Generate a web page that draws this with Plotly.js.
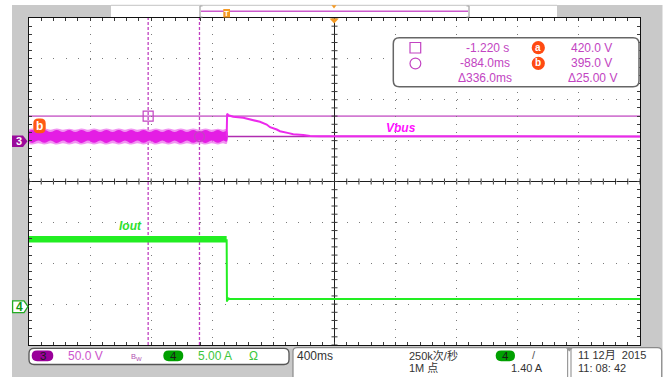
<!DOCTYPE html>
<html>
<head>
<meta charset="utf-8">
<script src="https://cdn.plot.ly/plotly-3.0.1.min.js"></script>
<style>
html,body{margin:0;padding:0;background:#fff;overflow:hidden}
#scope{width:667px;height:377px}
</style>
</head>
<body>
<div id="scope"></div>
<script>
// Horizontal: 400 ms/div, 10 divisions, trigger point at screen centre (s)
const timeRange = [-2.0, 2.0];
// CH3 Vbus: 50 V/div, screen centre at 340 V
const vbusRange = [140, 540];
// CH4 Iout: 5 A/div, ground marker just under the lowest grid line
const ioutRange = [-4.77, 35.23];

// Vbus ripple envelope before the load step (s, V)
const rippleT = [-2.000, -1.980, -1.940, -1.899, -1.859, -1.818, -1.778, -1.737, -1.697,
  -1.656, -1.615, -1.574, -1.534, -1.493, -1.453, -1.412, -1.372, -1.331, -1.291, -1.250,
  -1.210, -1.169, -1.128, -1.087, -1.047, -1.006, -0.966, -0.925, -0.885, -0.844, -0.804,
  -0.763, -0.730, -0.706];
const rippleOuterHi = [404.0, 404.8, 403.4, 404.7, 403.3, 404.8, 403.4, 404.6, 403.2,
  404.8, 403.4, 404.7, 403.3, 404.8, 403.4, 404.7, 403.3, 404.8, 403.4, 404.6, 403.3,
  404.8, 403.4, 404.7, 403.3, 404.8, 403.4, 404.7, 403.3, 404.8, 403.4, 404.6, 403.4, 404.0];
const rippleOuterLo = [386.0, 385.2, 386.8, 385.3, 386.9, 385.2, 386.8, 385.3, 386.9,
  385.2, 386.8, 385.3, 386.9, 385.2, 386.8, 385.3, 386.9, 385.2, 386.8, 385.3, 386.9,
  385.2, 386.8, 385.3, 386.9, 385.2, 386.8, 385.3, 386.9, 385.2, 386.8, 385.3, 386.8, 386.0];
const rippleCoreHi = [401.5, 403.0, 400.5, 402.9, 400.4, 403.0, 400.5, 402.9, 400.4,
  403.0, 400.5, 402.9, 400.4, 403.0, 400.5, 402.9, 400.4, 403.0, 400.5, 402.9, 400.4,
  403.0, 400.5, 402.9, 400.4, 403.0, 400.5, 402.9, 400.4, 403.0, 400.5, 402.9, 400.6, 401.5];
const rippleCoreLo = [388.8, 387.2, 390.2, 387.3, 390.3, 387.2, 390.2, 387.3, 390.3,
  387.2, 390.2, 387.3, 390.3, 387.2, 390.2, 387.3, 390.3, 387.2, 390.2, 387.3, 390.3,
  387.2, 390.2, 387.3, 390.3, 387.2, 390.2, 387.3, 390.3, 387.2, 390.2, 387.3, 390.0, 388.8];

// Vbus overshoot and recovery after the load step (s, V)
const vbusStepT = [-0.706, -0.703, -0.695, -0.663, -0.597, -0.534, -0.488, -0.444, -0.422,
  -0.378, -0.357, -0.300, -0.270, -0.204, -0.160, -0.095, 0.300, 1.000, 2.000];
const vbusStepV = [395.0, 423.0, 421.0, 419.2, 417.9, 415.0, 413.0, 409.7, 406.4,
  403.6, 401.5, 399.2, 397.8, 397.0, 395.8, 395.4, 395.2, 395.1, 395.1];

// Iout before the step (s, A)
const ioutHighT = [-2.000, -0.706];
const ioutHighA = [8.18, 8.18];
// Iout falling edge and light-load level (s, A)
const ioutLowT = [-0.706, -0.704, -0.701, -0.698, -0.694, -0.690, -0.680, 2.000];
const ioutLowA = [8.18, 0.52, 1.05, 0.70, 0.98, 0.86, 0.86, 0.86];

// Cursor pair: times (s) and levels (V)
const cursorT = [-1.220, -0.884];
const cursorV = [420.0, 395.0];

// ---- screen geometry (pixels) ----
const L = 29, T = 18, PW = 611, PH = 327;
const px = x => (x - L) / PW;
const py = y => (T + PH - y) / PH;

const FONT = 'Liberation Sans, Arial, Noto Sans CJK SC, sans-serif';
const MAG = '#c244c2';
const GRN = '#3cc63c';
const TICK = '#3a3a3a';

function rr(x0, y0, x1, y1, r) {
  return `M${px(x0 + r)},${py(y0)} L${px(x1 - r)},${py(y0)} Q${px(x1)},${py(y0)} ${px(x1)},${py(y0 + r)} ` +
    `L${px(x1)},${py(y1 - r)} Q${px(x1)},${py(y1)} ${px(x1 - r)},${py(y1)} L${px(x0 + r)},${py(y1)} ` +
    `Q${px(x0)},${py(y1)} ${px(x0)},${py(y1 - r)} L${px(x0)},${py(y0 + r)} Q${px(x0)},${py(y0)} ${px(x0 + r)},${py(y0)} Z`;
}
function poly(pts) {
  return 'M' + pts.map(p => px(p[0]) + ',' + py(p[1])).join(' L') + ' Z';
}
function pathShape(d, fill, line, lw, layer) {
  return {type: 'path', xref: 'paper', yref: 'paper', path: d, fillcolor: fill,
    line: {color: line || fill, width: lw === undefined ? 0 : lw}, layer: layer || 'above'};
}
function rect(x0, y0, x1, y1, fill, layer) {
  return {type: 'rect', xref: 'paper', yref: 'paper', x0: px(x0), x1: px(x1), y0: py(y1), y1: py(y0),
    fillcolor: fill, line: {width: 0}, layer: layer || 'above'};
}
function seg(x0, y0, x1, y1, color, w) {
  return {type: 'line', xref: 'paper', yref: 'paper', x0: px(x0), x1: px(x1), y0: py(y0), y1: py(y1),
    line: {color: color, width: w}, layer: 'above'};
}
function circ(cx, cy, r, fill, line, lw) {
  return {type: 'circle', xref: 'paper', yref: 'paper', x0: px(cx - r), x1: px(cx + r), y0: py(cy + r), y1: py(cy - r),
    fillcolor: fill, line: {color: line || fill, width: lw || 0}, layer: 'above'};
}
function label(x, y, text, size, color, anchor, extra) {
  return Object.assign({xref: 'paper', yref: 'paper', x: px(x), y: py(y), text: text, showarrow: false,
    xanchor: anchor || 'left', yanchor: 'middle', borderpad: 0,
    font: {family: FONT, size: size, color: color}}, extra || {});
}

// ---- cursor readout strings ----
function fmtT(t) {
  return Math.abs(t) >= 1 ? t.toFixed(3) + ' s' : (t * 1000).toFixed(1) + 'ms';
}
const dT = Math.abs(cursorT[1] - cursorT[0]);
const dV = Math.abs(cursorV[0] - cursorV[1]);
const vMid = (vbusRange[0] + vbusRange[1]) / 2;

// ---- traces ----
const rev = a => a.slice().reverse();
const data = [
  {x: rippleT.concat(rev(rippleT)), y: rippleOuterHi.concat(rev(rippleOuterLo)),
   xaxis: 'x', yaxis: 'y', mode: 'lines', fill: 'toself', fillcolor: 'rgba(238,120,238,0.8)',
   line: {width: 0, shape: 'spline', smoothing: 1}, hoverinfo: 'skip'},
  {x: rippleT.concat(rev(rippleT)), y: rippleCoreHi.concat(rev(rippleCoreLo)),
   xaxis: 'x', yaxis: 'y', mode: 'lines', fill: 'toself', fillcolor: '#e41ee4',
   line: {width: 0, shape: 'spline', smoothing: 1.2}, hoverinfo: 'skip'},
  {x: vbusStepT, y: vbusStepV, xaxis: 'x', yaxis: 'y', mode: 'lines',
   line: {color: '#ec2aec', width: 2}},
  {x: ioutHighT, y: ioutHighA, xaxis: 'x', yaxis: 'y2', mode: 'lines',
   line: {color: '#22ee22', width: 6.5}},
  {x: ioutLowT, y: ioutLowA, xaxis: 'x', yaxis: 'y2', mode: 'lines',
   line: {color: '#22ee22', width: 2}},
  {x: cursorT, y: cursorV, xaxis: 'x', yaxis: 'y', mode: 'markers',
   marker: {symbol: ['square-open', 'circle-open'], size: 10, color: MAG, line: {width: 1.2, color: MAG}}}
];

// ---- decorations ----
const shapes = [
  rect(12, 5, 662.5, 377, '#c9c9c9', 'below'),
  rect(111, 0, 557, 17.5, '#ffffff', 'below'),
  rect(29, 18, 640, 345, '#ffffff', 'below'),
  // centre horizontal line of the graticule
  {type: 'line', xref: 'x', yref: 'y', x0: timeRange[0], x1: timeRange[1], y0: vMid, y1: vMid,
   line: {color: '#1e1e1e', width: 1.2}, layer: 'below'},
  // cursors
  {type: 'line', xref: 'x', yref: 'paper', x0: cursorT[0], x1: cursorT[0], y0: 0, y1: 1,
   line: {color: '#c040c0', width: 1.3, dash: '3px,2px'}, layer: 'below'},
  {type: 'line', xref: 'x', yref: 'paper', x0: cursorT[1], x1: cursorT[1], y0: 0, y1: 1,
   line: {color: '#c040c0', width: 1.3, dash: '3px,2px'}, layer: 'below'},
  {type: 'line', xref: 'x', yref: 'y', x0: timeRange[0], x1: timeRange[1], y0: cursorV[0], y1: cursorV[0],
   line: {color: '#d27ad2', width: 1.6}, layer: 'below'},
  {type: 'line', xref: 'x', yref: 'y', x0: timeRange[0], x1: timeRange[1], y0: cursorV[1], y1: cursorV[1],
   line: {color: '#b02cb0', width: 1.4}, layer: 'below'}
];
// minor tick marks on both sides of the centre cross
for (let k = 0; k <= 50; k++) {
  const t = timeRange[0] + k * 0.08;
  shapes.push({type: 'line', xref: 'x', yref: 'paper', x0: t, x1: t, y0: 0.5 - 3 / PH, y1: 0.5 + 3 / PH,
    line: {color: TICK, width: 1}, layer: 'below'});
}
for (let k = 0; k <= 40; k++) {
  const v = vbusRange[0] + k * 10;
  shapes.push({type: 'line', xref: 'paper', yref: 'y', x0: 0.5 - 3 / PW, x1: 0.5 + 3 / PW, y0: v, y1: v,
    line: {color: TICK, width: 1}, layer: 'above'});
}
shapes.push(
  // top record bar
  seg(111, 5.3, 557, 5.3, '#c4c4c4', 1),
  seg(200, 6, 200, 17, '#a8a8a8', 1.3), seg(200, 6, 202.5, 6, '#a8a8a8', 1), seg(200, 17, 202.5, 17, '#a8a8a8', 1),
  seg(469, 6, 469, 17, '#a8a8a8', 1.3), seg(466.5, 6, 469, 6, '#a8a8a8', 1), seg(466.5, 17, 469, 17, '#a8a8a8', 1),
  seg(201, 11.3, 468, 11.3, '#cc5acc', 1.6),
  rect(223.3, 9, 230, 17.5, '#f59a23'),
  pathShape(poly([[331.5, 5.3], [336.5, 5.3], [334, 8.5]]), '#f59a23'),
  pathShape(poly([[329.5, 18.5], [338.8, 18.5], [334.2, 23.6]]), '#f59a23'),
  // channel markers
  pathShape(poly([[12, 135.6], [23, 135.6], [27.5, 141.3], [23, 147], [12, 147]]), '#9b0b9b'),
  pathShape(poly([[12.6, 300.8], [24, 300.8], [28, 306.6], [24, 312.6], [12.6, 312.6]]), '#ffffff', '#22aa22', 1.3),
  pathShape(rr(33.3, 118.6, 45.7, 133.3, 5), '#ff5a14'),
  // cursor readout
  pathShape(rr(393.3, 37.7, 639, 86.7, 6), '#ffffff', '#666666', 1.5),
  {type: 'rect', xref: 'paper', yref: 'paper', x0: px(410), x1: px(420.7), y0: py(53), y1: py(42.5),
   fillcolor: 'rgba(0,0,0,0)', line: {color: MAG, width: 1.2}, layer: 'above'},
  circ(415.4, 63.5, 5.4, 'rgba(0,0,0,0)', MAG, 1.2),
  circ(538.3, 47.7, 6.6, '#ff4a12'),
  circ(538.3, 63.3, 6.6, '#ff4a12'),
  // bottom status boxes
  pathShape(rr(29, 348.3, 289, 364.5, 5), '#ffffff', '#555555', 1.3),
  pathShape(rr(31.7, 350.4, 53.3, 361.2, 5.4), '#990099'),
  pathShape(rr(163.3, 350.4, 183.3, 361.2, 5.4), '#00a000'),
  pathShape(`M${px(293)},${py(377)} L${px(293)},${py(351.5)} Q${px(293)},${py(347.6)} ${px(297)},${py(347.6)} ` +
    `L${px(657.5)},${py(347.6)} Q${px(661.7)},${py(347.6)} ${px(661.7)},${py(351.5)} L${px(661.7)},${py(377)}`,
    '#ffffff', '#8a8a8a', 1.2),
  pathShape(rr(495.7, 350.4, 515, 361.2, 5.4), '#00a000'),
  seg(567.6, 349, 567.6, 377, '#9a9a9a', 1.2),
  seg(571, 349, 571, 377, '#9a9a9a', 1.2),
  pathShape(poly([[565.5, 347.6], [573.2, 347.6], [569.3, 351.5]]), '#9a9a9a')
);

const annotations = [
  label(18.8, 141.4, '<b>3</b>', 11, '#ffffff', 'center'),
  label(19.6, 306.7, '<b>4</b>', 12, '#119911', 'center'),
  label(39.5, 126, '<b>b</b>', 12, '#ffffff', 'center'),
  label(226.7, 13.3, '<b>T</b>', 8, '#ffffff', 'center'),
  label(385, 127.7, '<b><i>Vbus</i></b>', 12, '#ff10ff', 'left'),
  label(117.5, 226.2, '<b><i>Iout</i></b>', 12, '#2ee02e', 'left'),
  // readout rows
  label(510, 47.7, fmtT(cursorT[0]), 12, MAG, 'right'),
  label(511, 63.3, fmtT(cursorT[1]), 12, MAG, 'right'),
  label(512.5, 78.5, '\u0394' + fmtT(dT), 12, MAG, 'right'),
  label(538.3, 47.4, '<b>a</b>', 10, '#ffffff', 'center'),
  label(538.3, 63.0, '<b>b</b>', 10, '#ffffff', 'center'),
  label(612.7, 47.7, cursorV[0].toFixed(1) + ' V', 12, MAG, 'right'),
  label(612.7, 63.3, cursorV[1].toFixed(1) + ' V', 12, MAG, 'right'),
  label(618.3, 78.5, '\u0394' + dV.toFixed(2) + ' V', 12, MAG, 'right'),
  // status bar
  label(42.5, 356, '3', 11.5, '#1a1a1a', 'center'),
  label(66.7, 356, '50.0 V', 12, '#cc55cc', 'left'),
  label(130, 356, 'B', 7.5, '#b050b0', 'left'),
  label(134.5, 358.5, 'W', 6, '#b050b0', 'left'),
  label(173.3, 356, '4', 11.5, '#1a1a1a', 'center'),
  label(196.7, 356, '5.00 A', 12, GRN, 'left'),
  label(253.3, 356, '\u03a9', 12, GRN, 'center'),
  label(296, 356, '400ms', 12, '#333333', 'left'),
  label(408.3, 355.2, '250k\u6b21/\u79d2', 11, '#333333', 'left'),
  label(408.3, 368.2, '1M \u70b9', 11, '#333333', 'left'),
  label(505.3, 356, '4', 11.5, '#1a1a1a', 'center'),
  label(533.5, 355.2, '/', 11, '#555555', 'center'),
  label(543.5, 368.2, '1.40 A', 11, '#333333', 'right'),
  label(577.3, 355.2, '11 12\u6708\u00a0\u00a02015', 11, '#333333', 'left'),
  label(577.3, 368.2, '11: 08: 42', 11, '#333333', 'left')
];

const layout = {
  width: 667, height: 377,
  margin: {l: L, r: 667 - L - PW, t: T, b: 377 - T - PH, pad: 0},
  paper_bgcolor: '#ffffff', plot_bgcolor: '#ffffff',
  showlegend: false,
  xaxis: {range: timeRange, tick0: -2, dtick: 0.4, showticklabels: false,
    showgrid: true, gridcolor: '#7a7a7a', gridwidth: 1, griddash: '1px,7.175px',
    zeroline: true, zerolinecolor: '#1e1e1e', zerolinewidth: 1.2,
    showline: true, linecolor: '#111111', linewidth: 1.2, mirror: 'allticks',
    ticks: 'inside', ticklen: 3, tickcolor: TICK, tickwidth: 1,
    minor: {dtick: 0.08, tick0: -2, ticks: 'inside', ticklen: 3, tickcolor: TICK, showgrid: false},
    fixedrange: true},
  yaxis: {range: vbusRange, tick0: vbusRange[0], dtick: 50, showticklabels: false,
    showgrid: true, gridcolor: '#7a7a7a', gridwidth: 1, griddash: '1px,11.22px',
    zeroline: false,
    showline: true, linecolor: '#111111', linewidth: 1.2, mirror: 'allticks',
    ticks: 'inside', ticklen: 3, tickcolor: TICK, tickwidth: 1,
    minor: {dtick: 10, tick0: vbusRange[0], ticks: 'inside', ticklen: 3, tickcolor: TICK, showgrid: false},
    fixedrange: true},
  yaxis2: {overlaying: 'y', range: ioutRange, visible: false, fixedrange: true},
  shapes: shapes,
  annotations: annotations
};

Plotly.newPlot('scope', data, layout, {staticPlot: true, displayModeBar: false});
</script>
</body>
</html>
